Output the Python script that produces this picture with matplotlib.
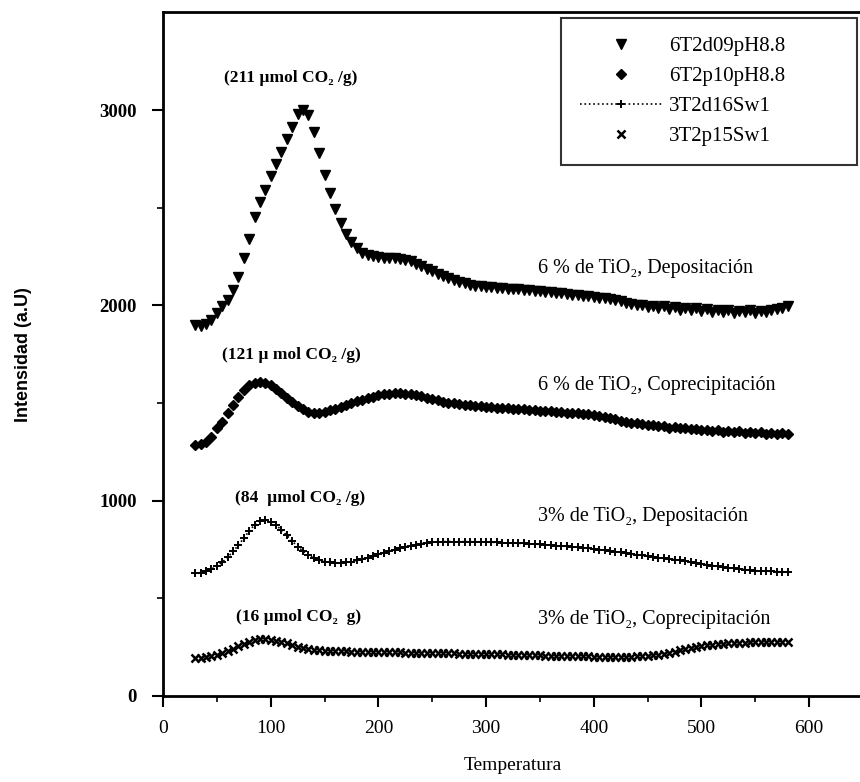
import numpy as np
import matplotlib
matplotlib.use("Agg")
import matplotlib.pyplot as plt

# temperature grid of the TPD runs (every 5 degrees)
temperatura = np.arange(30, 585, 5)

# 6T2d09pH8.8  (6 % TiO2, depositacion)
s_6T2d09 = [1897, 1895, 1905, 1925, 1960, 1995, 2030, 2080, 2145, 2240,
            2340, 2450, 2530, 2590, 2660, 2725, 2785, 2850, 2915, 2980,
            3000, 2975, 2890, 2780, 2670, 2575, 2495, 2420, 2365, 2325,
            2292, 2270, 2258, 2252, 2248, 2245, 2243, 2240, 2237, 2233,
            2225, 2213, 2200, 2187, 2175, 2163, 2152, 2140, 2128, 2118,
            2112, 2106, 2100, 2097, 2094, 2092, 2090, 2088, 2086, 2084,
            2082, 2080, 2078, 2075, 2072, 2070, 2067, 2064, 2061, 2058,
            2055, 2052, 2049, 2046, 2043, 2040, 2036, 2032, 2027, 2020,
            2013, 2006, 2000, 2002, 1993, 1998, 1985, 1995, 1982, 1990,
            1978, 1988, 1975, 1985, 1970, 1982, 1968, 1978, 1965, 1975,
            1962, 1972, 1965, 1975, 1962, 1970, 1965, 1975, 1980, 1985,
            1995]

# 6T2p10pH8.8  (6 % TiO2, coprecipitacion)
s_6T2p10 = [1285, 1290, 1302, 1325, 1370, 1405, 1450, 1490, 1530, 1565,
            1590, 1605, 1610, 1605, 1590, 1572, 1550, 1528, 1505, 1485,
            1468, 1456, 1450, 1450, 1455, 1462, 1470, 1480, 1490, 1500,
            1510, 1518, 1526, 1533, 1539, 1544, 1547, 1549, 1549, 1548,
            1546, 1542, 1536, 1528, 1520, 1513, 1507, 1502, 1498, 1495,
            1492, 1489, 1486, 1483, 1481, 1479, 1477, 1475, 1473, 1471,
            1469, 1467, 1465, 1463, 1461, 1459, 1457, 1455, 1453, 1451,
            1449, 1447, 1445, 1442, 1439, 1434, 1428, 1422, 1416, 1410,
            1405, 1400, 1396, 1392, 1388, 1390, 1380, 1384, 1374, 1378,
            1370, 1374, 1365, 1368, 1360, 1364, 1356, 1360, 1352, 1357,
            1350, 1355, 1348, 1352, 1345, 1350, 1343, 1348, 1340, 1345,
            1342]

# 3T2d16Sw1  (3 % TiO2, depositacion)
s_3T2d16 = [628, 632, 640, 650, 665, 685, 710, 740, 772, 808,
            845, 876, 896, 900, 893, 875, 850, 822, 793, 765,
            742, 722, 706, 695, 688, 684, 682, 682, 684, 688,
            694, 701, 709, 717, 726, 734, 742, 750, 757, 764,
            770, 775, 780, 784, 787, 789, 790, 791, 791, 791,
            790, 790, 789, 789, 788, 787, 786, 785, 784, 783,
            782, 781, 779, 778, 776, 774, 772, 770, 768, 766,
            764, 762, 759, 756, 753, 750, 746, 743, 739, 735,
            731, 727, 723, 720, 716, 712, 708, 704, 701, 698,
            696, 692, 688, 683, 678, 673, 668, 664, 660, 657,
            654, 650, 647, 644, 642, 640, 639, 638, 637, 636,
            636]

# 3T2p15Sw1  (3 % TiO2, coprecipitacion)
s_3T2p15 = [193, 196, 200, 206, 212, 220, 230, 242, 255, 267,
            278, 286, 290, 291, 289, 284, 277, 269, 261, 253,
            246, 240, 236, 233, 231, 230, 229, 228, 228, 227,
            227, 226, 226, 225, 225, 224, 224, 223, 223, 222,
            222, 221, 221, 220, 220, 219, 219, 218, 218, 217,
            217, 216, 216, 215, 215, 214, 213, 213, 212, 211,
            211, 210, 209, 209, 208, 207, 207, 206, 205, 205,
            204, 204, 203, 203, 202, 202, 202, 201, 201, 201,
            202, 202, 203, 204, 206, 208, 211, 215, 220, 227,
            234, 241, 247, 252, 256, 260, 263, 266, 268, 270,
            271, 272, 273, 274, 274, 275, 275, 276, 276, 277,
            277]

etiquetas = ["6T2d09pH8.8", "6T2p10pH8.8", "3T2d16Sw1", "3T2p15Sw1"]

notas = ["(211 µmol CO₂ /g)", "(121 µ mol CO₂ /g)",
         "(84  µmol CO₂ /g)", "(16 µmol CO₂  g)"]
notas_x = [119, 119, 127, 126]
notas_y = [3164, 1746, 1014, 405]

series_txt = ["6 % de TiO₂, Depositación", "6 % de TiO₂, Coprecipitación",
              "3% de TiO₂, Depositación", "3% de TiO₂, Coprecipitación"]
series_txt_y = [2191, 1592, 918, 390]

serif = ["Liberation Serif", "DejaVu Serif"]
plt.rcParams["font.family"] = serif

fig = plt.figure(figsize=(8.6, 7.82), dpi=100)
ax = fig.add_axes([163 / 860, 86 / 782, 700 / 860, 683.6 / 782])

ax.plot(temperatura, s_6T2d09, "v", color="black", ms=7.5, ls="none", label=etiquetas[0])
ax.plot(temperatura, s_6T2p10, "D", color="black", ms=5.5, ls="none", label=etiquetas[1])
ax.plot(temperatura, s_3T2d16, "+", color="black", ms=6, mew=1.4, ls=":", lw=1.2,
        label=etiquetas[2])
ax.plot(temperatura, s_3T2p15, "x", color="black", ms=5.5, mew=1.8, ls="none", label=etiquetas[3])

for txt, x, y in zip(notas, notas_x, notas_y):
    ax.text(x, y, txt, ha="center", va="center", fontsize=12.5, fontweight="bold")
for txt, y in zip(series_txt, series_txt_y):
    ax.text(348, y, txt, ha="left", va="center", fontsize=14.5)

ax.set_xlim(0, 650)
ax.set_ylim(0, 3500)
ax.set_xticks(range(0, 700, 100))
ax.set_xticks(range(50, 700, 100), minor=True)
ax.set_yticks([0, 1000, 2000, 3000])
ax.set_yticks([500, 1500, 2500], minor=True)
ax.tick_params(which="major", direction="out", length=8, width=1.5)
ax.tick_params(which="minor", direction="out", length=4, width=1.2)
ax.tick_params(axis="x", labelsize=14, pad=9)
ax.tick_params(axis="y", labelsize=13.5, pad=11)
for lab in ax.get_yticklabels():
    lab.set_fontweight("bold")
for sp in ax.spines.values():
    sp.set_linewidth(2)

ax.set_xlabel("Temperatura", fontsize=14, labelpad=15)
ax.set_ylabel("Intensidad (a.U)", fontsize=13, fontweight="bold",
              family=["Liberation Sans", "DejaVu Sans"], labelpad=48)

leg = ax.legend(loc="upper left", bbox_to_anchor=(561 / 860, 0.780, 296 / 860, 0.197),
                bbox_transform=fig.transFigure, mode="expand", fontsize=15,
                frameon=True, fancybox=False, edgecolor="black", borderpad=0.9,
                labelspacing=0.5, handlelength=4.0, handletextpad=0.3, numpoints=1,
                borderaxespad=0)
leg.get_frame().set_linewidth(1.5)

fig.savefig("out.png", dpi=100)
